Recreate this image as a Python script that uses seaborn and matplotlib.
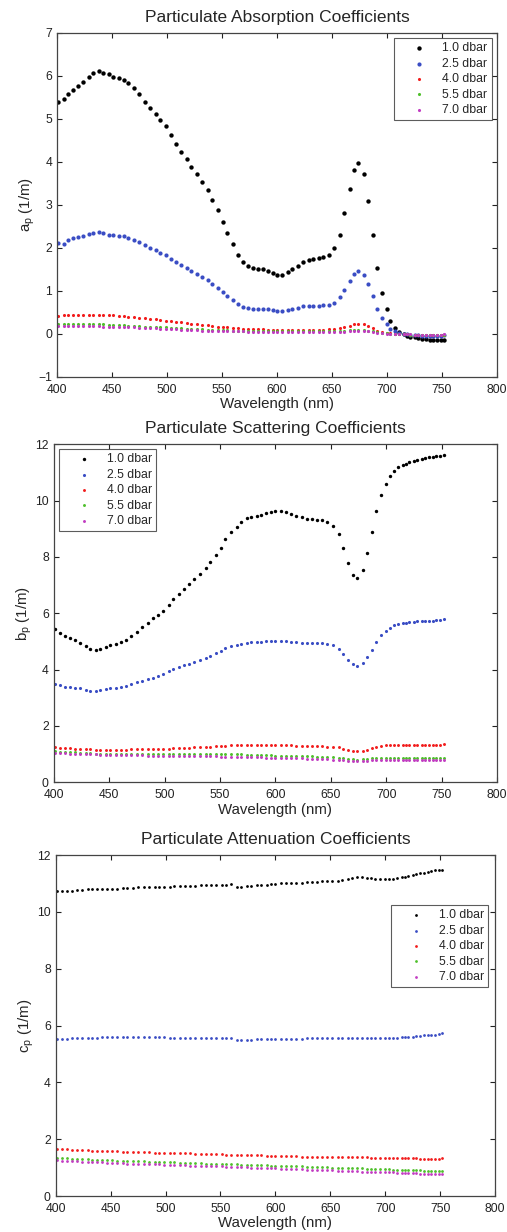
import numpy as np
import pandas as pd
import seaborn as sns
import matplotlib
matplotlib.use('Agg')
from matplotlib import pyplot as plt

# wavelengths (nm) of the spectrometer channels
wavelength = [401, 406, 410, 415, 419, 424, 429, 433, 438, 442,
              447, 451, 456, 461, 465, 470, 475, 480, 485, 490,
              494, 499, 504, 508, 513, 518, 522, 527, 532, 537,
              541, 546, 551, 555, 560, 565, 569, 574, 578, 583,
              587, 592, 596, 600, 605, 610, 614, 619, 624, 629,
              633, 638, 642, 647, 652, 657, 661, 666, 670, 674,
              679, 683, 687, 691, 695, 700, 703, 707, 711, 715,
              718, 721, 725, 728, 732, 735, 739, 742, 745, 749, 752]

depths = ['1.0 dbar', '2.5 dbar', '4.0 dbar', '5.5 dbar', '7.0 dbar']
colors = ['#000000', '#3a4dc4', '#f21c1c', '#4fc02c', '#c23cc2']

######## absorption a_p ########
a_10 = [5.38, 5.47, 5.57, 5.66, 5.77, 5.85, 5.96, 6.07, 6.12, 6.07,
        6.03, 5.98, 5.95, 5.90, 5.84, 5.72, 5.57, 5.40, 5.25, 5.12,
        4.97, 4.83, 4.62, 4.42, 4.23, 4.06, 3.88, 3.72, 3.54, 3.35,
        3.11, 2.88, 2.60, 2.34, 2.09, 1.83, 1.67, 1.58, 1.54, 1.51,
        1.50, 1.46, 1.42, 1.38, 1.37, 1.43, 1.50, 1.59, 1.66, 1.72,
        1.74, 1.76, 1.78, 1.83, 1.99, 2.30, 2.80, 3.36, 3.82, 3.96,
        3.71, 3.08, 2.30, 1.54, 0.96, 0.57, 0.30, 0.14, 0.05, -0.01,
        -0.04, -0.06, -0.08, -0.10, -0.11, -0.12, -0.13, -0.13, -0.14, -0.14, -0.13]
a_25 = [2.12, 2.10, 2.18, 2.22, 2.25, 2.28, 2.32, 2.35, 2.37, 2.34,
        2.31, 2.30, 2.28, 2.27, 2.23, 2.18, 2.13, 2.06, 1.99, 1.94,
        1.89, 1.83, 1.75, 1.67, 1.60, 1.53, 1.47, 1.40, 1.33, 1.26,
        1.16, 1.07, 0.98, 0.88, 0.78, 0.69, 0.63, 0.60, 0.58, 0.58,
        0.58, 0.57, 0.55, 0.53, 0.53, 0.56, 0.57, 0.61, 0.64, 0.65,
        0.65, 0.65, 0.67, 0.68, 0.73, 0.85, 1.03, 1.24, 1.40, 1.47,
        1.38, 1.16, 0.88, 0.59, 0.37, 0.22, 0.11, 0.06, 0.02, 0.00,
        -0.01, -0.02, -0.03, -0.03, -0.04, -0.04, -0.04, -0.04, -0.04, -0.04, -0.03]
a_40 = [0.42, 0.43, 0.43, 0.44, 0.44, 0.44, 0.44, 0.45, 0.45, 0.44,
        0.44, 0.43, 0.42, 0.41, 0.40, 0.39, 0.38, 0.36, 0.35, 0.34,
        0.33, 0.31, 0.30, 0.28, 0.27, 0.25, 0.24, 0.22, 0.21, 0.20,
        0.19, 0.17, 0.16, 0.15, 0.14, 0.13, 0.12, 0.12, 0.11, 0.11,
        0.11, 0.10, 0.10, 0.10, 0.10, 0.10, 0.10, 0.10, 0.10, 0.10,
        0.10, 0.10, 0.10, 0.11, 0.11, 0.13, 0.16, 0.19, 0.22, 0.24,
        0.22, 0.18, 0.13, 0.08, 0.05, 0.03, 0.02, 0.01, 0.00, -0.01,
        -0.01, -0.02, -0.02, -0.02, -0.03, -0.03, -0.03, -0.03, -0.03, -0.03, -0.02]
a_55 = [0.24, 0.24, 0.24, 0.23, 0.23, 0.23, 0.23, 0.22, 0.22, 0.22,
        0.21, 0.21, 0.20, 0.20, 0.19, 0.18, 0.18, 0.17, 0.16, 0.16,
        0.15, 0.15, 0.14, 0.13, 0.13, 0.12, 0.12, 0.11, 0.11, 0.10,
        0.10, 0.09, 0.09, 0.09, 0.08, 0.08, 0.08, 0.07, 0.07, 0.07,
        0.07, 0.07, 0.07, 0.06, 0.06, 0.06, 0.06, 0.06, 0.06, 0.06,
        0.06, 0.06, 0.06, 0.06, 0.06, 0.07, 0.08, 0.09, 0.10, 0.10,
        0.10, 0.08, 0.06, 0.04, 0.03, 0.02, 0.01, 0.00, -0.01, -0.01,
        -0.01, -0.02, -0.02, -0.02, -0.02, -0.03, -0.03, -0.03, -0.03, -0.03, -0.02]
a_70 = [0.19, 0.19, 0.19, 0.19, 0.18, 0.18, 0.18, 0.18, 0.18, 0.17,
        0.17, 0.17, 0.16, 0.16, 0.15, 0.15, 0.14, 0.14, 0.13, 0.13,
        0.12, 0.12, 0.11, 0.11, 0.10, 0.10, 0.09, 0.09, 0.08, 0.08,
        0.08, 0.07, 0.07, 0.07, 0.06, 0.06, 0.06, 0.05, 0.05, 0.05,
        0.05, 0.05, 0.05, 0.04, 0.04, 0.04, 0.04, 0.04, 0.04, 0.04,
        0.04, 0.04, 0.04, 0.04, 0.04, 0.05, 0.05, 0.06, 0.07, 0.07,
        0.07, 0.06, 0.05, 0.03, 0.02, 0.01, 0.01, 0.00, -0.01, -0.01,
        -0.01, -0.01, -0.02, -0.02, -0.02, -0.02, -0.02, -0.02, -0.02, -0.02, -0.01]

######## scattering b_p ########
b_10 = [5.43, 5.31, 5.19, 5.11, 5.04, 4.93, 4.83, 4.74, 4.70, 4.74,
        4.80, 4.89, 4.91, 4.98, 5.06, 5.19, 5.34, 5.51, 5.67, 5.82,
        5.94, 6.08, 6.31, 6.50, 6.68, 6.86, 7.04, 7.22, 7.39, 7.61,
        7.83, 8.07, 8.33, 8.62, 8.88, 9.05, 9.25, 9.37, 9.43, 9.45,
        9.50, 9.55, 9.58, 9.63, 9.64, 9.60, 9.52, 9.46, 9.41, 9.35,
        9.34, 9.32, 9.31, 9.25, 9.10, 8.80, 8.33, 7.80, 7.37, 7.26,
        7.54, 8.13, 8.90, 9.63, 10.20, 10.59, 10.88, 11.05, 11.18, 11.25,
        11.31, 11.36, 11.41, 11.45, 11.49, 11.52, 11.55, 11.56, 11.58, 11.59, 11.62]
b_25 = [3.48, 3.47, 3.39, 3.38, 3.35, 3.34, 3.28, 3.25, 3.24, 3.28,
        3.30, 3.34, 3.35, 3.38, 3.43, 3.49, 3.55, 3.60, 3.67, 3.71,
        3.77, 3.86, 3.94, 4.02, 4.10, 4.15, 4.21, 4.27, 4.33, 4.41,
        4.49, 4.58, 4.67, 4.76, 4.84, 4.87, 4.92, 4.94, 4.97, 4.98,
        4.99, 5.01, 5.02, 5.03, 5.03, 5.02, 4.99, 4.98, 4.96, 4.94,
        4.94, 4.94, 4.94, 4.91, 4.87, 4.73, 4.55, 4.34, 4.19, 4.14,
        4.22, 4.44, 4.70, 4.98, 5.22, 5.37, 5.49, 5.57, 5.62, 5.64,
        5.67, 5.68, 5.70, 5.71, 5.71, 5.73, 5.73, 5.74, 5.75, 5.76, 5.79]
b_40 = [1.24, 1.23, 1.22, 1.21, 1.20, 1.19, 1.18, 1.17, 1.16, 1.16,
        1.16, 1.16, 1.16, 1.16, 1.16, 1.17, 1.17, 1.18, 1.18, 1.19,
        1.19, 1.20, 1.20, 1.21, 1.21, 1.22, 1.23, 1.24, 1.25, 1.26,
        1.27, 1.28, 1.29, 1.30, 1.31, 1.32, 1.33, 1.33, 1.33, 1.33,
        1.33, 1.33, 1.32, 1.32, 1.32, 1.31, 1.31, 1.30, 1.30, 1.29,
        1.29, 1.28, 1.28, 1.27, 1.26, 1.24, 1.20, 1.16, 1.12, 1.10,
        1.12, 1.16, 1.21, 1.26, 1.29, 1.31, 1.32, 1.33, 1.33, 1.34,
        1.34, 1.34, 1.34, 1.34, 1.34, 1.34, 1.34, 1.34, 1.34, 1.34, 1.35]
b_55 = [1.10, 1.09, 1.08, 1.07, 1.06, 1.05, 1.04, 1.03, 1.02, 1.02,
        1.01, 1.01, 1.00, 1.00, 1.00, 0.99, 0.99, 0.99, 0.99, 0.99,
        0.99, 0.99, 0.99, 0.99, 0.99, 0.99, 0.99, 0.99, 0.99, 0.99,
        0.99, 0.99, 0.99, 0.99, 0.99, 0.99, 0.99, 0.98, 0.98, 0.97,
        0.97, 0.96, 0.96, 0.95, 0.95, 0.94, 0.94, 0.93, 0.93, 0.92,
        0.92, 0.91, 0.91, 0.90, 0.89, 0.87, 0.85, 0.83, 0.82, 0.81,
        0.82, 0.83, 0.85, 0.86, 0.87, 0.88, 0.88, 0.88, 0.88, 0.88,
        0.88, 0.88, 0.88, 0.88, 0.88, 0.88, 0.88, 0.88, 0.88, 0.88, 0.88]
b_70 = [1.05, 1.04, 1.03, 1.02, 1.01, 1.00, 1.00, 0.99, 0.99, 0.98,
        0.98, 0.98, 0.97, 0.97, 0.97, 0.96, 0.96, 0.96, 0.95, 0.95,
        0.95, 0.94, 0.94, 0.94, 0.93, 0.93, 0.93, 0.93, 0.92, 0.92,
        0.92, 0.92, 0.91, 0.91, 0.91, 0.90, 0.90, 0.90, 0.89, 0.89,
        0.89, 0.88, 0.88, 0.87, 0.87, 0.86, 0.86, 0.85, 0.85, 0.84,
        0.84, 0.83, 0.83, 0.82, 0.81, 0.80, 0.79, 0.77, 0.76, 0.75,
        0.76, 0.77, 0.78, 0.79, 0.79, 0.80, 0.80, 0.80, 0.80, 0.80,
        0.80, 0.80, 0.79, 0.79, 0.79, 0.79, 0.79, 0.79, 0.79, 0.79, 0.79]

######## attenuation c_p ########
c_10 = [10.75, 10.74, 10.74, 10.75, 10.76, 10.77, 10.79, 10.80, 10.79, 10.80,
        10.81, 10.82, 10.82, 10.84, 10.85, 10.85, 10.86, 10.86, 10.87, 10.87,
        10.88, 10.89, 10.89, 10.90, 10.90, 10.91, 10.92, 10.92, 10.93, 10.93,
        10.94, 10.94, 10.95, 10.96, 10.97, 10.88, 10.89, 10.90, 10.91, 10.93,
        10.94, 10.96, 10.98, 10.99, 11.00, 11.01, 11.02, 11.03, 11.03, 11.04,
        11.05, 11.06, 11.07, 11.07, 11.08, 11.09, 11.11, 11.15, 11.19, 11.21,
        11.21, 11.20, 11.18, 11.16, 11.15, 11.15, 11.15, 11.17, 11.19, 11.21,
        11.23, 11.26, 11.29, 11.32, 11.35, 11.38, 11.41, 11.44, 11.46, 11.47, 11.49]
c_25 = [5.54, 5.54, 5.54, 5.55, 5.55, 5.56, 5.56, 5.57, 5.57, 5.58,
        5.59, 5.59, 5.60, 5.60, 5.61, 5.60, 5.60, 5.59, 5.59, 5.58,
        5.58, 5.58, 5.57, 5.57, 5.57, 5.56, 5.56, 5.56, 5.56, 5.55,
        5.55, 5.55, 5.55, 5.55, 5.55, 5.49, 5.49, 5.50, 5.50, 5.51,
        5.51, 5.52, 5.52, 5.53, 5.53, 5.53, 5.54, 5.54, 5.54, 5.55,
        5.55, 5.55, 5.55, 5.55, 5.55, 5.55, 5.55, 5.55, 5.55, 5.55,
        5.56, 5.56, 5.56, 5.56, 5.55, 5.55, 5.55, 5.56, 5.57, 5.58,
        5.59, 5.60, 5.61, 5.63, 5.64, 5.65, 5.66, 5.67, 5.68, 5.70, 5.72]
c_40 = [1.66, 1.65, 1.64, 1.63, 1.62, 1.62, 1.61, 1.60, 1.59, 1.58,
        1.58, 1.57, 1.57, 1.56, 1.56, 1.55, 1.55, 1.54, 1.54, 1.53,
        1.53, 1.52, 1.52, 1.51, 1.51, 1.50, 1.50, 1.49, 1.49, 1.48,
        1.48, 1.47, 1.47, 1.46, 1.46, 1.45, 1.45, 1.44, 1.44, 1.43,
        1.43, 1.42, 1.42, 1.41, 1.41, 1.41, 1.40, 1.40, 1.39, 1.39,
        1.39, 1.38, 1.38, 1.38, 1.38, 1.37, 1.37, 1.37, 1.36, 1.36,
        1.36, 1.36, 1.35, 1.35, 1.35, 1.35, 1.35, 1.34, 1.34, 1.34,
        1.34, 1.33, 1.33, 1.33, 1.32, 1.31, 1.30, 1.30, 1.31, 1.32, 1.33]
c_55 = [1.35, 1.34, 1.33, 1.32, 1.31, 1.30, 1.29, 1.28, 1.28, 1.27,
        1.26, 1.26, 1.25, 1.24, 1.24, 1.23, 1.22, 1.22, 1.21, 1.21,
        1.20, 1.19, 1.19, 1.18, 1.17, 1.17, 1.16, 1.16, 1.15, 1.14,
        1.14, 1.13, 1.13, 1.12, 1.11, 1.11, 1.10, 1.10, 1.09, 1.09,
        1.08, 1.08, 1.07, 1.07, 1.06, 1.06, 1.05, 1.05, 1.04, 1.03,
        1.03, 1.02, 1.02, 1.01, 1.00, 1.00, 0.99, 0.99, 0.98, 0.97,
        0.97, 0.96, 0.96, 0.95, 0.95, 0.94, 0.94, 0.93, 0.93, 0.92,
        0.92, 0.91, 0.91, 0.90, 0.90, 0.89, 0.88, 0.87, 0.87, 0.87, 0.88]
c_70 = [1.26, 1.25, 1.24, 1.23, 1.22, 1.21, 1.20, 1.19, 1.18, 1.18,
        1.17, 1.16, 1.16, 1.15, 1.14, 1.14, 1.13, 1.13, 1.12, 1.12,
        1.11, 1.10, 1.10, 1.09, 1.08, 1.08, 1.07, 1.07, 1.06, 1.05,
        1.05, 1.04, 1.04, 1.03, 1.02, 1.02, 1.01, 1.01, 1.00, 0.99,
        0.99, 0.98, 0.98, 0.97, 0.96, 0.96, 0.95, 0.95, 0.94, 0.93,
        0.93, 0.92, 0.91, 0.91, 0.90, 0.89, 0.89, 0.88, 0.88, 0.87,
        0.86, 0.86, 0.85, 0.85, 0.84, 0.84, 0.83, 0.83, 0.82, 0.82,
        0.81, 0.81, 0.80, 0.80, 0.79, 0.79, 0.78, 0.78, 0.77, 0.77, 0.77]

sns.set_style('ticks')
plt.rcParams['font.family'] = ['Liberation Sans', 'DejaVu Sans']
plt.rcParams['mathtext.fontset'] = 'custom'
plt.rcParams['mathtext.rm'] = 'Liberation Sans'
plt.rcParams['mathtext.it'] = 'Liberation Sans:italic'

fig = plt.figure(figsize=(5.07, 12.32), dpi=100)
fig.patch.set_facecolor('white')

ax1 = fig.add_axes([0.1124, 0.6940, 0.8679, 0.2795])
ax2 = fig.add_axes([0.1059, 0.3650, 0.8744, 0.2744])
ax3 = fig.add_axes([0.1099, 0.0292, 0.8665, 0.2768])


def draw_panel(ax, series, ylabel, title, ylim, yticks, sizes, legend_kw):
    for depth, vals, col, size in zip(depths, series, colors, sizes):
        df = pd.DataFrame({'Wavelength': wavelength, 'value': vals})
        sns.scatterplot(data=df, x='Wavelength', y='value', color=col, s=size,
                        linewidth=0, ax=ax, label=depth)
    ax.set_xlim(400, 800)
    ax.set_ylim(*ylim)
    ax.set_xticks(range(400, 801, 50))
    ax.set_yticks(yticks)
    ax.tick_params(direction='in', length=3.5, width=0.8, top=True, right=True,
                   labelsize=8.7, colors='#222222')
    ax.tick_params(axis='x', pad=5)
    ax.tick_params(axis='y', pad=3.5)
    for sp in ax.spines.values():
        sp.set_color('#444444')
        sp.set_linewidth(0.9)
    ax.set_xlabel('Wavelength (nm)', fontsize=10.8, labelpad=1)
    ax.set_ylabel(ylabel, fontsize=10.8, labelpad=1)
    ax.set_title(title, fontsize=12.5, pad=8)
    leg = ax.legend(frameon=True, fancybox=False, edgecolor='#333333',
                    fontsize=8.8, scatterpoints=1, handlelength=3.4,
                    handletextpad=0.2, labelspacing=0.28, borderpad=0.35,
                    **legend_kw)
    leg.get_frame().set_linewidth(0.8)


draw_panel(ax1, [a_10, a_25, a_40, a_55, a_70], r'a$_\mathrm{p}$ (1/m)',
           'Particulate Absorption Coefficients', (-1, 7), range(-1, 8),
           [10, 9, 5, 5, 5],
           dict(loc='upper right', borderaxespad=0.45))
draw_panel(ax2, [b_10, b_25, b_40, b_55, b_70], r'b$_\mathrm{p}$ (1/m)',
           'Particulate Scattering Coefficients', (0, 12), range(0, 13, 2),
           [6, 5, 4.5, 4.5, 4.5],
           dict(loc='upper left', borderaxespad=0.4))
draw_panel(ax3, [c_10, c_25, c_40, c_55, c_70], r'c$_\mathrm{p}$ (1/m)',
           'Particulate Attenuation Coefficients', (0, 12), range(0, 13, 2),
           [4, 4, 4, 4, 4],
           dict(loc='upper right', bbox_to_anchor=(0.985, 0.853), borderaxespad=0))

fig.savefig('out.png', dpi=100, facecolor='white')
